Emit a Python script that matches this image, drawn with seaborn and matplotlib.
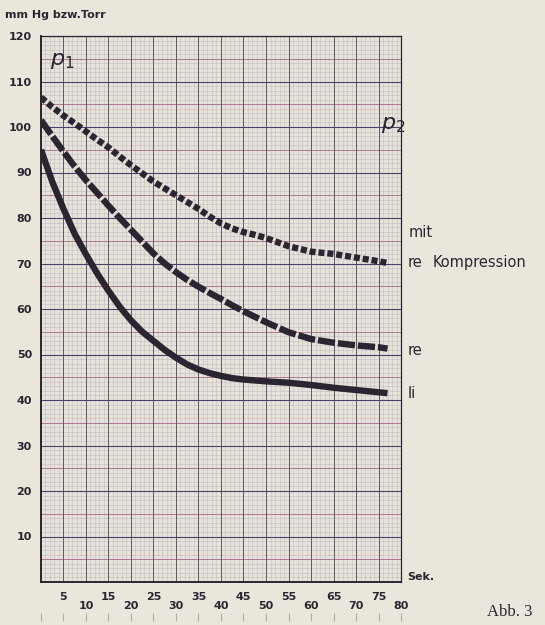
import numpy as np
import pandas as pd
import matplotlib.pyplot as plt
import seaborn as sns

# Values (time in s, pressure in mm Hg)
zeit = [0, 2.5, 5, 7.5, 10, 12.5, 15, 17.5, 20, 22.5, 25, 27.5, 30, 32.5,
        35, 37.5, 40, 42.5, 45, 47.5, 50, 55, 60, 65, 70, 75, 77]
p_li = [95, 88, 82, 76.5, 72, 67.8, 64, 60.5, 57.5, 55, 53, 51, 49.3, 47.8,
        46.7, 45.9, 45.3, 44.8, 44.5, 44.3, 44.1, 43.8, 43.3, 42.7, 42.2, 41.7, 41.5]
p_re = [101.5, 98, 94.6, 91.3, 88.3, 85.5, 82.7, 80, 77.4, 74.8, 72.2, 70, 68.1, 66.4,
        64.9, 63.5, 62.2, 60.8, 59.5, 58.3, 57.1, 54.9, 53.4, 52.6, 52, 51.6, 51.3]
p_re_kompr = [106.5, 104.4, 102.5, 100.8, 99, 97.2, 95.5, 93.5, 91.6, 89.8, 88, 86.5, 85, 83.5,
              82, 80.3, 78.8, 77.7, 76.9, 76.3, 75.6, 73.8, 72.6, 72.1, 71.3, 70.5, 70.1]

x_major = [10, 20, 30, 40, 50, 60, 70, 80]
x_minor = [5, 15, 25, 35, 45, 55, 65, 75]
y_ticks = [10, 20, 30, 40, 50, 60, 70, 80, 90, 100, 110, 120]

df = pd.DataFrame({"t": zeit, "li": p_li, "re": p_re, "kompr": p_re_kompr})

sns.set_style("white")
plt.rcParams["font.family"] = ["DejaVu Sans"]
plt.rcParams["mathtext.fontset"] = "dejavusans"

paper = "#ebe6dc"
ink = "#2a2530"

fig = plt.figure(figsize=(5.45, 6.25), dpi=100, facecolor=paper)
ax = fig.add_axes([0.0752, 0.0688, 0.6606, 0.8736])
ax.set_facecolor("#e7e3da")

# graph paper
for v in np.arange(0, 80.1, 1):
    ax.axvline(v, color="#c4bcc0", lw=0.4, zorder=0)
for v in np.arange(0, 120.1, 1):
    ax.axhline(v, color="#c4bcc0", lw=0.4, zorder=0)
for v in np.arange(0, 120.1, 5):
    ax.axhline(v, color="#a86c88", lw=0.6, zorder=0)
for v in np.arange(0, 80.1, 5):
    ax.axvline(v, color="#5c5866", lw=0.7, zorder=0)
for v in np.arange(0, 120.1, 10):
    ax.axhline(v, color="#45436a", lw=0.8, zorder=0)

lw = 4.6
sns.lineplot(data=df, x="t", y="li", ax=ax, color=ink, lw=lw,
             solid_capstyle="butt", solid_joinstyle="round", zorder=3)
sns.lineplot(data=df, x="t", y="re", ax=ax, color=ink, lw=lw,
             linestyle=(0, (2.7, 0.45)), zorder=3)
sns.lineplot(data=df, x="t", y="kompr", ax=ax, color=ink, lw=lw,
             linestyle=(0, (0.95, 0.45)), zorder=3)

ax.set_xlim(0, 80)
ax.set_ylim(0, 120)
ax.set_xlabel("")
ax.set_ylabel("")

ax.set_xticks(x_major, labels=[str(v) for v in x_major])
ax.set_xticks(x_minor, labels=[str(v) for v in x_minor], minor=True)
ax.set_yticks(y_ticks, labels=[str(v) for v in y_ticks])
ax.tick_params(axis="x", which="major", direction="out", length=11.5, width=1,
               pad=2.5, labelsize=8, colors=ink)
ax.tick_params(axis="x", which="minor", direction="out", length=5.8, width=1,
               pad=1.5, labelsize=8, colors=ink)
ax.tick_params(axis="y", which="major", direction="out", length=5.5, width=1,
               pad=1, labelsize=8, colors=ink)
for lab in ax.get_xticklabels(which="both") + ax.get_yticklabels():
    lab.set_fontweight("bold")

for side, s in ax.spines.items():
    s.set_color(ink)
    s.set_linewidth(1.4 if side in ("left", "bottom") else 0.9)

# faint ruler marks below the axis
ruler = ax.secondary_xaxis(-0.064)
ruler.set_xticks(np.arange(0, 81, 5), labels=[])
ruler.tick_params(direction="inout", length=6, width=0.8, color="#b5ada2")
ruler.spines["bottom"].set_visible(False)

# texts
fig.text(0.01, 0.976, "mm Hg bzw.Torr", fontsize=8, fontweight="bold",
         color=ink, va="center", ha="left")
ax.text(81.3, 1.2, "Sek.", fontsize=8, fontweight="bold", color=ink,
        va="center", ha="left", clip_on=False)
ax.text(2.0, 114.5, r"$p_1$", fontsize=16, color=ink, va="center", ha="left")
ax.text(75.5, 100.5, r"$p_2$", fontsize=16, color=ink, va="center", ha="left")
ax.text(81.8, 76.8, "mit", fontsize=10.5, color=ink, va="center", ha="left",
        clip_on=False)
ax.text(81.5, 70.2, "re", fontsize=10.5, color=ink, va="center", ha="left",
        clip_on=False)
ax.text(87.0, 70.2, "Kompression", fontsize=10.5, color=ink, va="center",
        ha="left", clip_on=False)
ax.text(81.5, 50.8, "re", fontsize=10.5, color=ink, va="center", ha="left",
        clip_on=False)
ax.text(81.5, 41.5, "li", fontsize=10.5, color=ink, va="center", ha="left",
        clip_on=False)
fig.text(0.893, 0.021, "Abb. 3", fontsize=12, color=ink,
         family=["Liberation Serif", "DejaVu Serif"], va="center", ha="left")

fig.savefig("out.png", dpi=100, facecolor=paper)
